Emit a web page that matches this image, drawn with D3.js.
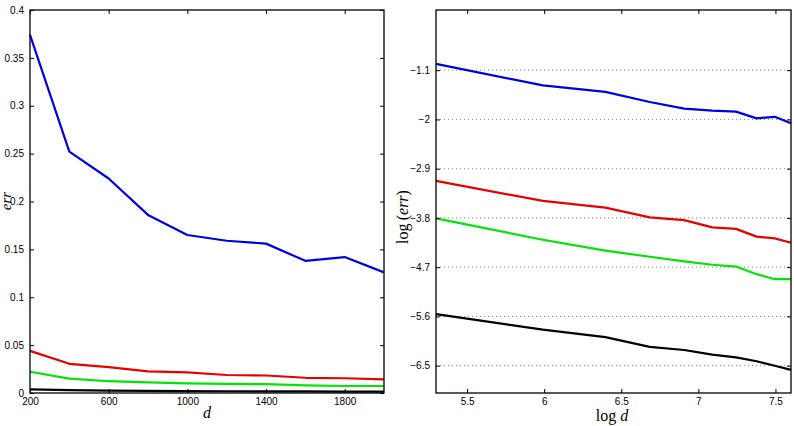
<!DOCTYPE html>
<html>
<head>
<meta charset="utf-8">
<script src="https://cdn.jsdelivr.net/npm/d3@7"></script>
<style>
  body { margin: 0; background: #fff; }
  svg { display: block; }
  .tick text { font-family: "Liberation Sans", Arial, sans-serif; font-size: 10px; fill: #000; }
</style>
</head>
<body>
<div id="chart"></div>
<script>
// problem sizes d
const dims = [200, 400, 600, 800, 1000, 1200, 1400, 1600, 1800, 2000];

// error values per method
const errBlue = [0.374, 0.252, 0.224, 0.186, 0.165, 0.159, 0.156, 0.138, 0.142, 0.126];
const errRed = [0.044, 0.0305, 0.027, 0.0226, 0.0215, 0.0188, 0.0183, 0.0159, 0.0154, 0.0142];
const errGreen = [0.0222, 0.015, 0.0123, 0.011, 0.0101, 0.0095, 0.0092, 0.008, 0.0073, 0.0073];
const errBlack = [0.00385, 0.0029, 0.00253, 0.00212, 0.002, 0.00184, 0.00175, 0.00163, 0.0015, 0.00139];

const seriesColors = ['#0000e6', '#e60000', '#00e600', '#000000'];

const leftXTicks = [200, 600, 1000, 1400, 1800];
const leftYTicks = [0, 0.05, 0.1, 0.15, 0.2, 0.25, 0.3, 0.35, 0.4];
const rightXTicks = [5.5, 6, 6.5, 7, 7.5];
const rightYTicks = [-1.1, -2, -2.9, -3.8, -4.7, -5.6, -6.5];

const series = [errBlue, errRed, errGreen, errBlack];

const dimensions = { width: 794, height: 426 };

const svg = d3.select('#chart')
  .append('svg')
  .attr('width', dimensions.width)
  .attr('height', dimensions.height);

const panel = (box, xScale, yScale, xTicks, yTicks, xFmt, yFmt, getX, getY, grid) => {
  const g = svg.append('g');

  if (grid) {
    g.append('g')
      .selectAll('line')
      .data(yTicks)
      .join('line')
      .attr('x1', box.left)
      .attr('x2', box.right)
      .attr('y1', (d) => yScale(d))
      .attr('y2', (d) => yScale(d))
      .attr('stroke', '#888')
      .attr('stroke-width', 1)
      .attr('stroke-dasharray', '1,3');
  }

  const line = d3.line()
    .x((d, i) => xScale(getX(i)))
    .y((d) => yScale(getY(d)));

  g.append('g')
    .selectAll('path')
    .data(series)
    .join('path')
    .attr('d', line)
    .attr('fill', 'none')
    .attr('stroke', (_, i) => seriesColors[i])
    .attr('stroke-width', 2.2)
    .attr('stroke-linejoin', 'round');

  // axes with inward ticks, mirrored on opposite sides
  g.append('g')
    .attr('transform', `translate(0, ${box.bottom})`)
    .call(d3.axisBottom(xScale).tickValues(xTicks).tickFormat(xFmt).tickSizeInner(-4).tickSizeOuter(0).tickPadding(5))
    .call((a) => a.select('.domain').remove());
  g.append('g')
    .attr('transform', `translate(0, ${box.top})`)
    .call(d3.axisTop(xScale).tickValues(xTicks).tickFormat('').tickSizeInner(-4).tickSizeOuter(0))
    .call((a) => a.select('.domain').remove());
  g.append('g')
    .attr('transform', `translate(${box.left}, 0)`)
    .call(d3.axisLeft(yScale).tickValues(yTicks).tickFormat(yFmt).tickSizeInner(-4).tickSizeOuter(0).tickPadding(6))
    .call((a) => a.select('.domain').remove());
  g.append('g')
    .attr('transform', `translate(${box.right}, 0)`)
    .call(d3.axisRight(yScale).tickValues(yTicks).tickFormat('').tickSizeInner(-4).tickSizeOuter(0))
    .call((a) => a.select('.domain').remove());

  g.append('rect')
    .attr('x', box.left)
    .attr('y', box.top)
    .attr('width', box.right - box.left)
    .attr('height', box.bottom - box.top)
    .attr('fill', 'none')
    .attr('stroke', '#000')
    .attr('stroke-width', 1.3);

  return g;
};

// left panel: err vs d
const boxL = { left: 30, right: 384, top: 10, bottom: 393 };
const xL = d3.scaleLinear().domain([200, 2000]).range([boxL.left, boxL.right]);
const yL = d3.scaleLinear().domain([0, 0.4]).range([boxL.bottom, boxL.top]);
panel(boxL, xL, yL, leftXTicks, leftYTicks, d3.format('d'), (d) => d === 0 ? '0' : String(+d.toFixed(2)),
  (i) => dims[i], (d) => d, false);

// right panel: log(err) vs log d
const boxR = { left: 436, right: 791, top: 10, bottom: 393 };
const xR = d3.scaleLinear().domain([Math.log(200), Math.log(2000)]).range([boxR.left, boxR.right]);
const yR = d3.scaleLinear().domain([-7, 0]).range([boxR.bottom, boxR.top]);
panel(boxR, xR, yR, rightXTicks, rightYTicks, (d) => String(d), (d) => '\u2212' + String(Math.abs(d)),
  (i) => Math.log(dims[i]), (d) => Math.log(d), true);

const serif = '"Liberation Serif", "DejaVu Serif", serif';

svg.append('text')
  .attr('x', 207).attr('y', 418)
  .attr('text-anchor', 'middle')
  .attr('font-family', serif).attr('font-style', 'italic').attr('font-size', 16)
  .text('d');

svg.append('text')
  .attr('transform', 'translate(11, 201) rotate(-90)')
  .attr('text-anchor', 'middle')
  .attr('font-family', serif).attr('font-style', 'italic').attr('font-size', 15)
  .text('err');

const logD = svg.append('text')
  .attr('x', 612).attr('y', 421)
  .attr('text-anchor', 'middle')
  .attr('font-family', serif).attr('font-size', 16);
logD.append('tspan').text('log ');
logD.append('tspan').attr('font-style', 'italic').text('d');

const logErr = svg.append('text')
  .attr('transform', 'translate(408, 217) rotate(-90)')
  .attr('text-anchor', 'middle')
  .attr('font-family', serif).attr('font-size', 16);
logErr.append('tspan').text('log\u2009(');
logErr.append('tspan').attr('font-style', 'italic').text('err');
logErr.append('tspan').text(')');
</script>
</body>
</html>
